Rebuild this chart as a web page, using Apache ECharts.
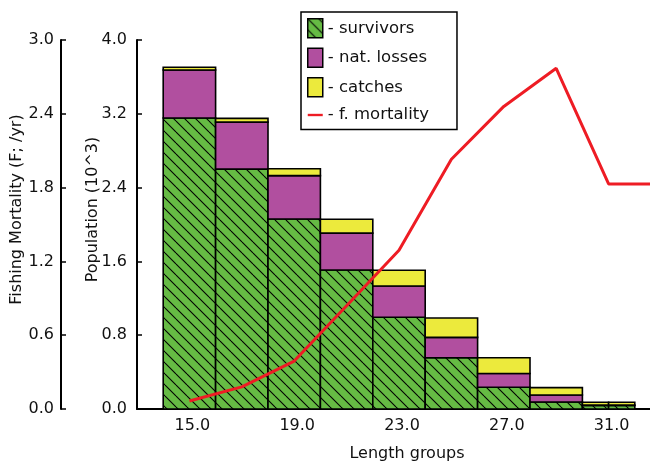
<!DOCTYPE html>
<html>
<head>
<meta charset="utf-8">
<script src="https://cdn.jsdelivr.net/npm/echarts@6/dist/echarts.min.js"></script>
<style>
html,body{margin:0;padding:0;background:#fff;}
#chart{width:650px;height:466px;}
</style>
</head>
<body>
<div id="chart"></div>
<script>
// ---- data ----
const binStart   = [14, 16, 18, 20, 22, 24, 26, 28, 30, 31];
const binEnd     = [16, 18, 20, 22, 24, 26, 28, 30, 31, 32];
const survivors  = [3.154, 2.600, 2.060, 1.507, 0.994, 0.556, 0.235, 0.076, 0.038, 0.038];
const natLosses  = [0.520, 0.510, 0.470, 0.400, 0.340, 0.220, 0.150, 0.076, 0.005, 0.005];
const catches    = [0.030, 0.040, 0.075, 0.150, 0.170, 0.210, 0.170, 0.080, 0.030, 0.030];
const fLength    = [15, 17, 19, 21, 23, 25, 27, 29, 31, 33];
const fMortality = [0.065, 0.18, 0.39, 0.84, 1.29, 2.03, 2.46, 2.77, 1.83, 1.83];
const xTicks     = [15, 19, 23, 27, 31];

const FONT = 'DejaVu Sans';
const GREEN = '#66bb44', PURPLE = '#b14f9f', YELLOW = '#ecea3c', RED = '#ee1c24';

// hatch pattern for survivors
function makeHatch() {
  const s = 11;
  const c = document.createElement('canvas');
  c.width = s; c.height = s;
  const g = c.getContext('2d');
  g.fillStyle = GREEN; g.fillRect(0, 0, s, s);
  g.strokeStyle = '#000'; g.lineWidth = 1.1;
  for (let k = -1; k <= 1; k++) {
    g.beginPath(); g.moveTo(0, k * s); g.lineTo(s, s + k * s); g.stroke();
  }
  return { image: c, repeat: 'repeat' };
}
const hatch = makeHatch();

function buildStack(values, bases) {
  return values.map((v, i) => [binStart[i], binEnd[i], bases[i], bases[i] + v]);
}
const base0 = survivors.map(() => 0);
const base1 = survivors.slice();
const base2 = survivors.map((v, i) => v + natLosses[i]);

function renderRect(fill) {
  return function (params, api) {
    const p0 = api.coord([api.value(0), api.value(3)]);
    const p1 = api.coord([api.value(1), api.value(2)]);
    return {
      type: 'rect',
      shape: { x: p0[0], y: p0[1], width: p1[0] - p0[0], height: p1[1] - p0[1] },
      style: { fill: fill, stroke: '#000', lineWidth: 1.6 }
    };
  };
}

const axisText = { color: '#111', fontFamily: FONT, fontSize: 16 };
const chart = echarts.init(document.getElementById('chart'), null, { renderer: 'canvas' });
chart.setOption({
  animation: false,
  backgroundColor: '#fff',
  grid: { left: 137, top: 40, width: 524, height: 369, containLabel: false, outerBoundsMode: 'none' },
  legend: {
    orient: 'vertical',
    left: 301, top: 12,
    padding: [6, 28, 6, 6],
    itemWidth: 15, itemHeight: 19, itemGap: 9, itemTextGap: 7,
    backgroundColor: '#fff',
    borderColor: '#000', borderWidth: 1.5, borderRadius: 0,
    formatter: name => '- ' + name,
    textStyle: { color: '#111', fontFamily: FONT, fontSize: 16.5 },
    data: [
      { name: 'survivors', icon: 'rect', itemStyle: { color: hatch, borderColor: '#000', borderWidth: 1.5 } },
      { name: 'nat. losses', icon: 'rect', itemStyle: { color: PURPLE, borderColor: '#000', borderWidth: 1.5 } },
      { name: 'catches', icon: 'rect', itemStyle: { color: YELLOW, borderColor: '#000', borderWidth: 1.5 } },
      { name: 'f. mortality', icon: 'path://M0,0 L19,0 L19,3 L0,3 Z', itemStyle: { color: RED, borderWidth: 0 } }
    ]
  },
  xAxis: {
    type: 'value', min: 13, max: 33,
    name: 'Length groups', nameLocation: 'middle', nameGap: 37, nameMoveOverlap: false,
    nameTextStyle: Object.assign({}, axisText, { padding: [0, 0, 0, 16] }),
    axisLine: { show: true, onZero: false, lineStyle: { color: '#000', width: 2 } },
    axisTick: { show: true, inside: true, length: 5, customValues: xTicks, lineStyle: { color: '#000', width: 1.5 } },
    axisLabel: Object.assign({}, axisText, { customValues: xTicks, margin: 9, padding: [0, 0, 0, 6], formatter: v => v.toFixed(1) }),
    splitLine: { show: false }
  },
  yAxis: [
    {
      type: 'value', position: 'left', offset: 0, min: 0, max: 4, interval: 0.8,
      name: 'Population (10^3)', nameLocation: 'middle', nameRotate: 90, nameGap: 36, nameMoveOverlap: false,
      nameTextStyle: Object.assign({}, axisText, { padding: [0, 0, 0, 30] }),
      axisLine: { show: true, lineStyle: { color: '#000', width: 2 } },
      axisTick: { show: true, inside: true, length: 5, lineStyle: { color: '#000', width: 1.5 } },
      axisLabel: Object.assign({}, axisText, { margin: 10, formatter: v => v.toFixed(1) }),
      splitLine: { show: false }
    },
    {
      type: 'value', position: 'left', offset: 76, min: 0, max: 3, interval: 0.6,
      name: 'Fishing Mortality (F; /yr)', nameLocation: 'middle', nameRotate: 90, nameGap: 36, nameMoveOverlap: false,
      nameTextStyle: Object.assign({}, axisText, { padding: [0, 0, 0, 30] }),
      axisLine: { show: true, lineStyle: { color: '#000', width: 2 } },
      axisTick: { show: true, inside: true, length: 5, lineStyle: { color: '#000', width: 1.5 } },
      axisLabel: Object.assign({}, axisText, { margin: 7, formatter: v => v.toFixed(1) }),
      splitLine: { show: false }
    }
  ],
  series: [
    { name: 'survivors', type: 'custom', xAxisIndex: 0, yAxisIndex: 0, renderItem: renderRect(hatch),
      itemStyle: { color: GREEN }, encode: { x: [0, 1], y: [2, 3] }, data: buildStack(survivors, base0), z: 2 },
    { name: 'nat. losses', type: 'custom', xAxisIndex: 0, yAxisIndex: 0, renderItem: renderRect(PURPLE),
      itemStyle: { color: PURPLE }, encode: { x: [0, 1], y: [2, 3] }, data: buildStack(natLosses, base1), z: 2 },
    { name: 'catches', type: 'custom', xAxisIndex: 0, yAxisIndex: 0, renderItem: renderRect(YELLOW),
      itemStyle: { color: YELLOW }, encode: { x: [0, 1], y: [2, 3] }, data: buildStack(catches, base2), z: 2 },
    { name: 'f. mortality', type: 'line', xAxisIndex: 0, yAxisIndex: 1, showSymbol: false, symbol: 'none',
      lineStyle: { color: RED, width: 3 }, itemStyle: { color: RED },
      data: fLength.map((x, i) => [x, fMortality[i]]), z: 5 }
  ]
});
</script>
</body>
</html>
